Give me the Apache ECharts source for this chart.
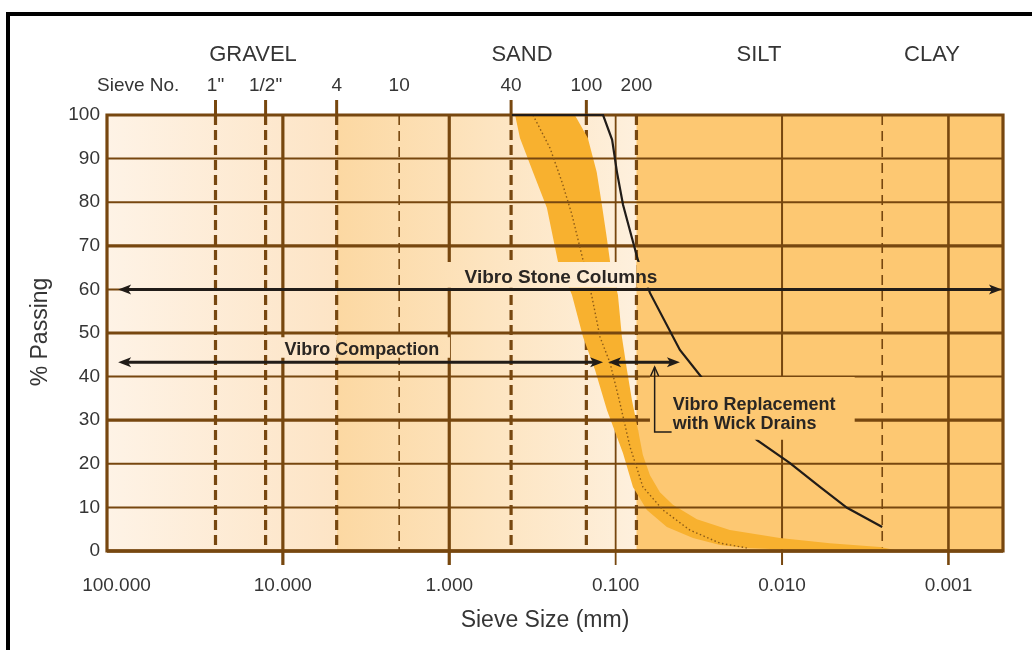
<!DOCTYPE html>
<html><head><meta charset="utf-8">
<script src="https://cdn.jsdelivr.net/npm/echarts@6/dist/echarts.min.js"></script>
<style>html,body{margin:0;padding:0;background:#fff}#c{width:1032px;height:650px}</style>
</head><body><div id="c"></div>
<script>
// ---------------- data ----------------
const xMax = 114, xMin = 0.00047;               // sieve size extent (mm), axis reversed
const yTicks = [0, 10, 20, 30, 40, 50, 60, 70, 80, 90, 100];
const decades = [10, 1, 0.1, 0.01, 0.001];
const sieveSizes = [25.4, 12.7, 4.75, 2.0, 0.425, 0.15, 0.075];
const sieveLabels = ['1"', '1/2"', '4', '10', '40', '100', '200'];
const clayBoundary = 0.0025;
const zoneEdges = [114, 4.75, 0.075, 0.00047];
const zoneNames = ['GRAVEL', 'SAND', 'SILT', 'CLAY'];

// black gradation curve
const curveSize = [0.42, 0.119, 0.105, 0.0982, 0.0903, 0.0798, 0.0734, 0.0622, 0.0411, 0.0283, 0.0142, 0.0090, 0.00592, 0.00407, 0.0025];
const curvePass = [100, 100, 94.3, 86.9, 79.4, 71.8, 66.7, 59.2, 46.1, 38.3, 25.5, 20.2, 14.7, 9.9, 5.5];

// orange envelope (coarse edge and fine edge)
const bandCoarseSize = [0.402, 0.376, 0.314, 0.259, 0.222, 0.183, 0.157, 0.133, 0.1127, 0.0904, 0.0787, 0.0649, 0.0492, 0.0343, 0.0236, 0.0163, 0.0078, 0.00196];
const bandCoarsePass = [100, 94.7, 86.9, 78.7, 66.3, 58.7, 49.1, 41.5, 32.3, 22.5, 14.7, 9.4, 5.5, 3.0, 1.4, 0.7, 0.2, 0];
const bandFineSize = [0.176, 0.147, 0.130, 0.121, 0.113, 0.108, 0.0969, 0.0917, 0.0855, 0.0798, 0.0734, 0.0686, 0.0622, 0.0542, 0.0453, 0.0325, 0.0206, 0.0103, 0.00516, 0.00258, 0.00196];
const bandFinePass = [100, 94.7, 86.9, 79.4, 71.8, 66.3, 58.7, 49.1, 41.5, 34.6, 27.8, 22.0, 17.4, 13.5, 10.6, 7.3, 4.8, 3.0, 1.8, 0.9, 0];

// dotted middle line
const midSize = [0.314, 0.248, 0.210, 0.183, 0.157, 0.1388, 0.1242, 0.108, 0.0942, 0.0820, 0.0686, 0.0520, 0.0358, 0.0236, 0.0163];
const midPass = [100, 92.4, 84.6, 77.1, 66.7, 58.3, 49.1, 43.1, 33.9, 23.9, 14.7, 9.4, 4.8, 1.8, 0.7];

// ranges of application
const stoneColumnsRange = [97.7, 0.000477], stoneColumnsLevel = 60;
const compactionRange = [97.7, 0.119], compactionLevel = 43.3;
const wickDrainRange = [0.111, 0.0411], wickDrainLevel = 43.3;
const leaderSize = 0.0583, leaderPass = [42.2, 27.3], leaderEndSize = 0.0461;

// ---------------- styles / layout ----------------
const FONT = "'Liberation Sans', Arial, Helvetica, sans-serif";
const BROWN = '#77470f';
const INK = '#211c18';
const TEXT = '#353535';
const zoneColors = [['#fef3e6', '#fde4c5'], ['#fcd8a2', '#fef0dd'], ['#fdc872', '#fdc872']];
const thickDecade = {10: 3.2, 1: 3.2, 0.1: 1.8, 0.01: 2, 0.001: 2.6};
const majorY = [30, 50, 70];
const thinSieves = ['10'];
const tickedSieves = ['1"', '1/2"', '4', '40', '100'];
const boxes = [
  {x: [1.16, 0.0527], y: [60.4, 66.3]},
  {x: [11.1, 0.99], y: [44.3, 49.0]},
  {x: [0.0622, 0.00366], y: [25.5, 39.9]}
];

function zoneFill(api, i) {
  const a = api.coord([zoneEdges[i], 0])[0], b = api.coord([zoneEdges[i + 1], 0])[0];
  return new echarts.graphic.LinearGradient(a, 0, b, 0,
    [{offset: 0, color: zoneColors[i][0]}, {offset: 1, color: zoneColors[i][1]}], true);
}
function pts(api, xs, ys) { return xs.map((x, i) => api.coord([x, ys[i]])); }

function layer(z, draw) {
  return {
    type: 'custom', z: z, silent: true, clip: false,
    data: [[1, 50]], encode: {x: 0, y: 1},
    renderItem: (params, api) => ({type: 'group', children: draw(api)})
  };
}

function arrow(children, api, xa, xb, y, w) {
  const a = api.coord([xa, y]), b = api.coord([xb, y]);
  const L = 13, H = 5;
  [[a, b], [b, a]].forEach(([p, q]) => {
    const d = Math.sign(q[0] - p[0]);
    children.push({type: 'polygon', shape: {points: [[p[0], p[1]], [p[0] + d * L, p[1] - H], [p[0] + d * L * 0.75, p[1]], [p[0] + d * L, p[1] + H]]}, style: {fill: INK}});
  });
  const d = Math.sign(b[0] - a[0]);
  children.push({type: 'line', shape: {x1: a[0] + d * 8, y1: a[1], x2: b[0] - d * 8, y2: b[1]}, style: {stroke: INK, lineWidth: w}});
}

const option = {
  animation: false,
  grid: {left: 107, right: 29, top: 115, bottom: 99},
  xAxis: {
    type: 'log', logBase: 10, inverse: true, min: xMin, max: xMax,
    axisLine: {show: false}, axisTick: {show: false}, splitLine: {show: false},
    axisLabel: {
      show: true, showMinLabel: false, showMaxLabel: false, margin: 25,
      fontSize: 19, color: TEXT, fontFamily: FONT,
      formatter: v => Math.abs(Math.log10(v) - Math.round(Math.log10(v))) < 1e-6 ? v.toFixed(3) : ''
    }
  },
  yAxis: {
    type: 'value', min: 0, max: 100, interval: 10,
    axisLine: {show: false}, axisTick: {show: false}, splitLine: {show: false},
    axisLabel: {margin: 7, fontSize: 19, color: TEXT, fontFamily: FONT}
  },
  graphic: [
    {type: 'rect', shape: {x: 8, y: 14, width: 1200, height: 1000}, style: {fill: 'none', stroke: '#000', lineWidth: 4}},
    {type: 'text', x: 253, y: 55, style: {text: zoneNames[0], fontSize: 22, fontFamily: FONT, fill: TEXT, align: 'center', verticalAlign: 'middle'}},
    {type: 'text', x: 522, y: 55, style: {text: zoneNames[1], fontSize: 22, fontFamily: FONT, fill: TEXT, align: 'center', verticalAlign: 'middle'}},
    {type: 'text', x: 759, y: 55, style: {text: zoneNames[2], fontSize: 22, fontFamily: FONT, fill: TEXT, align: 'center', verticalAlign: 'middle'}},
    {type: 'text', x: 932, y: 55, style: {text: zoneNames[3], fontSize: 22, fontFamily: FONT, fill: TEXT, align: 'center', verticalAlign: 'middle'}},
    {type: 'text', x: 97, y: 86, style: {text: 'Sieve No.', fontSize: 19, fontFamily: FONT, fill: TEXT, align: 'left', verticalAlign: 'middle'}},
    {type: 'text', x: 545, y: 621, style: {text: 'Sieve Size (mm)', fontSize: 23, fontFamily: FONT, fill: TEXT, align: 'center', verticalAlign: 'middle'}},
    {type: 'text', x: 41, y: 332, rotation: Math.PI / 2, style: {text: '% Passing', fontSize: 23, fontFamily: FONT, fill: TEXT, align: 'center', verticalAlign: 'middle'}}
  ],
  series: [
    // zones
    layer(1, api => zoneEdges.slice(0, 3).map((e, i) => {
      const a = api.coord([e, 100]), b = api.coord([zoneEdges[i + 1], 0]);
      return {type: 'rect', shape: {x: a[0], y: a[1], width: b[0] - a[0], height: b[1] - a[1]}, style: {fill: zoneFill(api, i)}};
    })),
    // vertical lines (decades, sieves, clay boundary)
    layer(2, api => {
      const c = [];
      decades.forEach(d => {
        const t = api.coord([d, 100]), b = api.coord([d, 0]);
        c.push({type: 'line', shape: {x1: t[0], y1: t[1], x2: b[0], y2: b[1] + 14}, style: {stroke: BROWN, lineWidth: thickDecade[d]}});
      });
      sieveSizes.forEach((s, i) => {
        const t = api.coord([s, 100]), b = api.coord([s, 0]);
        const thin = thinSieves.includes(sieveLabels[i]);
        c.push({type: 'line', shape: {x1: t[0], y1: t[1], x2: b[0], y2: b[1]},
          style: {stroke: BROWN, lineWidth: thin ? 1.6 : 3.2, lineDash: thin ? [10, 6] : [10, 5], lineDashOffset: thin ? -16 : 0}});
        if (tickedSieves.includes(sieveLabels[i])) {
          c.push({type: 'line', shape: {x1: t[0], y1: t[1] - 15, x2: t[0], y2: t[1]}, style: {stroke: BROWN, lineWidth: 3}});
        }
        c.push({type: 'text', x: t[0], y: t[1] - 29, style: {text: sieveLabels[i], fontSize: 19, fontFamily: FONT, fill: TEXT, align: 'center', verticalAlign: 'middle'}});
      });
      const t = api.coord([clayBoundary, 100]), b = api.coord([clayBoundary, 0]);
      c.push({type: 'line', shape: {x1: t[0], y1: t[1], x2: b[0], y2: b[1]}, style: {stroke: BROWN, lineWidth: 1.6, lineDash: [10, 6], lineDashOffset: -16}});
      return c;
    }),
    // orange envelope
    layer(3, api => [{
      type: 'polygon',
      shape: {points: pts(api, bandCoarseSize, bandCoarsePass).concat(pts(api, bandFineSize, bandFinePass).reverse())},
      style: {fill: '#f8b12f'}
    }]),
    // horizontal lines
    layer(4, api => yTicks.filter(v => v > 0 && v < 100).map(v => {
      const a = api.coord([xMax, v]), b = api.coord([xMin, v]);
      return {type: 'line', shape: {x1: a[0], y1: a[1], x2: b[0], y2: b[1]}, style: {stroke: BROWN, lineWidth: majorY.includes(v) ? 3.2 : 2}};
    })),
    // frame
    layer(5, api => {
      const a = api.coord([xMax, 100]), b = api.coord([xMin, 0]);
      return [
        {type: 'rect', shape: {x: a[0], y: a[1], width: b[0] - a[0], height: b[1] - a[1]}, style: {fill: 'none', stroke: BROWN, lineWidth: 3.2}},
        {type: 'line', shape: {x1: a[0], y1: b[1], x2: b[0], y2: b[1]}, style: {stroke: BROWN, lineWidth: 3.6}}
      ];
    }),
    // dotted middle line
    layer(6, api => [{type: 'polyline', shape: {points: pts(api, midSize, midPass)}, style: {fill: 'none', stroke: '#8b5a17', lineWidth: 1.4, lineDash: [1.5, 2.5]}}]),
    // black curve
    layer(7, api => [{type: 'polyline', shape: {points: pts(api, curveSize, curvePass)}, style: {fill: 'none', stroke: INK, lineWidth: 2.2}}]),
    // label backgrounds
    layer(8, api => {
      const c = [];
      boxes.forEach(bx => {
        for (let i = 0; i < 3; i++) {
          const x0 = Math.min(bx.x[0], zoneEdges[i]), x1 = Math.max(bx.x[1], zoneEdges[i + 1]);
          if (x0 <= x1) continue;
          const a = api.coord([x0, bx.y[1]]), b = api.coord([x1, bx.y[0]]);
          c.push({type: 'rect', shape: {x: a[0], y: a[1], width: b[0] - a[0], height: b[1] - a[1]}, style: {fill: zoneFill(api, i)}});
        }
      });
      return c;
    }),
    // arrows + annotations
    layer(9, api => {
      const c = [];
      arrow(c, api, stoneColumnsRange[0], stoneColumnsRange[1], stoneColumnsLevel, 3);
      arrow(c, api, compactionRange[0], compactionRange[1], compactionLevel, 3);
      arrow(c, api, wickDrainRange[0], wickDrainRange[1], wickDrainLevel, 3);
      const p = api.coord([leaderSize, leaderPass[0]]), q = api.coord([leaderSize, leaderPass[1]]), r = api.coord([leaderEndSize, leaderPass[1]]);
      c.push({type: 'polyline', shape: {points: [p, q, r]}, style: {fill: 'none', stroke: INK, lineWidth: 1.5}});
      c.push({type: 'polyline', shape: {points: [[p[0] - 4, p[1] + 9], p, [p[0] + 4, p[1] + 9]]}, style: {fill: 'none', stroke: INK, lineWidth: 1.5}});
      const tf = {fontSize: 18, fontWeight: 'bold', fontFamily: FONT, fill: '#2a2623'};
      const s = api.coord([0.213, 62.6]);
      c.push({type: 'text', x: s[0], y: s[1], style: Object.assign({text: 'Vibro Stone Columns', align: 'center', verticalAlign: 'middle'}, tf, {fontSize: 19})});
      const k = api.coord([3.35, 46.1]);
      c.push({type: 'text', x: k[0], y: k[1], style: Object.assign({text: 'Vibro Compaction', align: 'center', verticalAlign: 'middle'}, tf)});
      const w = api.coord([0.0454, 31.4]);
      c.push({type: 'text', x: w[0], y: w[1], style: Object.assign({text: 'Vibro Replacement\nwith Wick Drains', align: 'left', verticalAlign: 'middle', lineHeight: 19}, tf)});
      return c;
    })
  ]
};
echarts.init(document.getElementById('c'), null, {renderer: 'canvas'}).setOption(option);
</script>
</body></html>
